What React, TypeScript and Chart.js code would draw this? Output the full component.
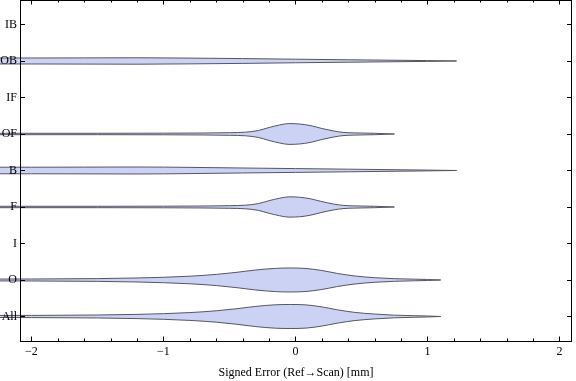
import React, { useEffect, useRef } from 'react';
import { Chart, registerables } from 'chart.js';

Chart.register(...registerables);

// Categories, top to bottom
const categories = ['IB', 'OB', 'IF', 'OF', 'B', 'F', 'I', 'O', 'All'];
const xTickValues = [-2, -1, 0, 1, 2];
const xAxisTitle = 'Signed Error (Ref\u2192Scan) [mm]';

// Violin outlines: sample x values (mm) and half-width (fraction of row spacing)
const obX = [-2.4, -2.0, -1.6, -1.2, -0.8, -0.4, 0.0, 0.4, 0.8, 1.0, 1.22];
const obW = [0.082, 0.082, 0.085, 0.088, 0.079, 0.066, 0.049, 0.033, 0.019, 0.011, 0];

const bX = [-2.4, -2.0, -1.6, -1.2, -0.8, -0.4, 0.0, 0.4, 0.8, 1.0, 1.22];
const bW = [0.09, 0.09, 0.093, 0.096, 0.085, 0.068, 0.052, 0.036, 0.019, 0.011, 0];

const ofX = [-2.4, -1.5, -1.0, -0.7, -0.5, -0.38, -0.28, -0.2, -0.12, -0.05, 0.03, 0.11, 0.2, 0.29, 0.36, 0.45, 0.6, 0.75];
const ofW = [0.019, 0.019, 0.022, 0.027, 0.036, 0.049, 0.096, 0.178, 0.247, 0.285, 0.274, 0.233, 0.151, 0.082, 0.044, 0.03, 0.019, 0];

const fX = [-2.4, -1.5, -1.0, -0.7, -0.5, -0.38, -0.28, -0.2, -0.12, -0.05, 0.03, 0.11, 0.2, 0.29, 0.36, 0.45, 0.6, 0.75];
const fW = [0.019, 0.019, 0.022, 0.027, 0.036, 0.049, 0.093, 0.173, 0.24, 0.278, 0.268, 0.227, 0.148, 0.08, 0.044, 0.03, 0.019, 0];

const oX = [-2.4, -2.0, -1.5, -1.2, -1.0, -0.8, -0.6, -0.45, -0.3, -0.15, -0.04, 0.08, 0.2, 0.32, 0.45, 0.6, 0.75, 0.9, 1.0, 1.1];
const oW = [0.025, 0.027, 0.038, 0.055, 0.074, 0.104, 0.153, 0.208, 0.274, 0.318, 0.329, 0.315, 0.26, 0.178, 0.11, 0.063, 0.036, 0.022, 0.014, 0];

const allX = [-2.4, -2.0, -1.5, -1.2, -1.0, -0.8, -0.6, -0.45, -0.3, -0.15, -0.04, 0.08, 0.2, 0.32, 0.45, 0.6, 0.75, 0.9, 1.0, 1.1];
const allW = [0.027, 0.03, 0.041, 0.058, 0.077, 0.107, 0.156, 0.211, 0.277, 0.321, 0.329, 0.318, 0.263, 0.181, 0.112, 0.066, 0.036, 0.022, 0.014, 0];

const violins = [
  { cat: 'OB', xs: obX, ws: obW },
  { cat: 'OF', xs: ofX, ws: ofW },
  { cat: 'B', xs: bX, ws: bW },
  { cat: 'F', xs: fX, ws: fW },
  { cat: 'O', xs: oX, ws: oW },
  { cat: 'All', xs: allX, ws: allW },
];

const FILL = 'rgb(204,210,243)';
const EDGE = 'rgb(85,85,100)';
const FONT = "'Liberation Serif', 'Times New Roman', serif";

const posOf = (cat: string) => categories.length - categories.indexOf(cat);

// Let the violins run past the left frame into the label margin (as in the original)
const overflowPlugin = {
  id: 'leftOverflow',
  beforeDatasetsDraw(chart: any) {
    const a = chart.chartArea;
    chart.$savedLeft = a.left;
    a.width = a.right;
    a.left = 0;
  },
  afterDatasetsDraw(chart: any) {
    const a = chart.chartArea;
    a.left = chart.$savedLeft;
    a.width = a.right - a.left;
  },
};

const framePlugin = {
  id: 'frameTicks',
  afterDraw(chart: any) {
    const { ctx, chartArea: a, scales } = chart;
    ctx.save();
    ctx.strokeStyle = '#000';
    ctx.lineWidth = 1;
    ctx.strokeRect(a.left + 0.5, a.top + 0.5, a.right - a.left - 1, a.bottom - a.top - 1);
    ctx.beginPath();
    for (let k = -15; k <= 15; k++) {
      const v = k / 5;
      const px = Math.round(scales.x.getPixelForValue(v)) + 0.5;
      if (px < a.left || px > a.right) continue;
      const len = k % 5 === 0 ? 4.5 : 2.5;
      ctx.moveTo(px, a.bottom - 1);
      ctx.lineTo(px, a.bottom - 1 - len);
      ctx.moveTo(px, a.top);
      ctx.lineTo(px, a.top + len);
    }
    categories.forEach((c) => {
      const py = Math.round(scales.y.getPixelForValue(posOf(c))) + 0.5;
      ctx.moveTo(a.left, py);
      ctx.lineTo(a.left + 5, py);
      ctx.moveTo(a.right - 1, py);
      ctx.lineTo(a.right - 5, py);
    });
    ctx.stroke();
    ctx.restore();
  },
};

export default function App() {
  const ref = useRef<HTMLCanvasElement>(null);
  useEffect(() => {
    if (!ref.current) return;
    const datasets: any[] = [];
    violins.forEach((v) => {
      const p = posOf(v.cat);
      datasets.push({
        data: v.xs.map((x, i) => ({ x, y: p + v.ws[i] })),
        borderColor: EDGE,
        borderWidth: 1,
        pointRadius: 0,
        fill: false,
        clip: false,
        cubicInterpolationMode: 'monotone',
      });
      datasets.push({
        data: v.xs.map((x, i) => ({ x, y: p - v.ws[i] })),
        borderColor: EDGE,
        borderWidth: 1,
        pointRadius: 0,
        backgroundColor: FILL,
        fill: '-1',
        clip: false,
        cubicInterpolationMode: 'monotone',
      });
    });
    const chart = new Chart(ref.current, {
      type: 'line',
      data: { datasets },
      plugins: [overflowPlugin, framePlugin],
      options: {
        animation: false,
        responsive: false,
        layout: { padding: { left: 0, right: 4, top: 0, bottom: 0 } },
        plugins: { legend: { display: false }, tooltip: { enabled: false } },
        scales: {
          x: {
            type: 'linear',
            min: -2.087,
            max: 2.095,
            grid: { display: false, drawTicks: false, tickLength: 0 },
            border: { display: false },
            afterBuildTicks: (s: any) => {
              s.ticks = xTickValues.map((value) => ({ value }));
            },
            afterFit: (s: any) => {
              s.height = 39;
              s.paddingLeft = 0;
              s.paddingRight = 0;
            },
            ticks: {
              padding: 3,
              maxRotation: 0,
              color: '#000',
              font: { family: FONT, size: 12 },
              callback: (v: any) => (v < 0 ? '\u2212' + Math.abs(v) : String(v)),
            },
            title: {
              display: true,
              text: xAxisTitle,
              color: '#000',
              font: { family: FONT, size: 12 },
              padding: { top: 0, bottom: 1 },
            },
          },
          y: {
            type: 'linear',
            min: 0.301,
            max: 9.671,
            grid: { display: false, drawTicks: false, tickLength: 0 },
            border: { display: false },
            afterBuildTicks: (s: any) => {
              s.ticks = categories.map((c) => ({ value: posOf(c) }));
            },
            afterFit: (s: any) => {
              s.width = 20;
              s.paddingTop = 0;
              s.paddingBottom = 0;
            },
            ticks: {
              z: 1,
              padding: 3,
              color: '#000',
              font: { family: FONT, size: 12 },
              callback: (v: any) => categories[categories.length - v] ?? '',
            },
          },
        },
      },
    });
    return () => chart.destroy();
  }, []);
  return (
    <div style={{ position: 'absolute', left: 0, top: 0, width: 576, height: 381, background: '#fff' }}>
      <canvas ref={ref} width={576} height={381} style={{ display: 'block' }} />
    </div>
  );
}
